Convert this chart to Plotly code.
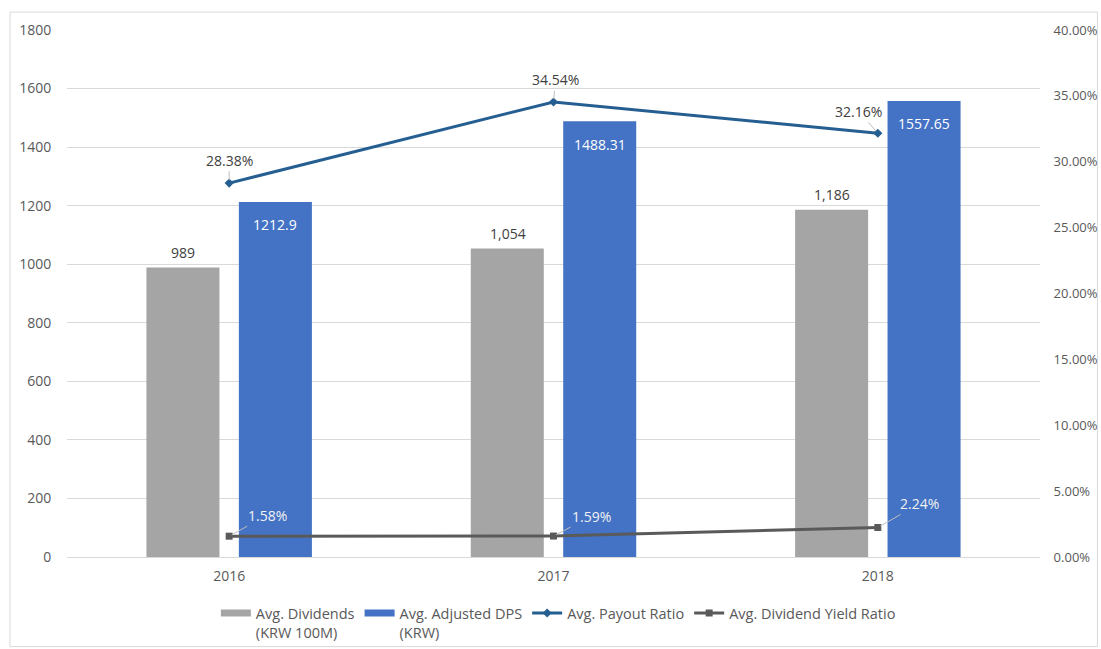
import plotly.graph_objects as go

# Chart data
years = ["2016", "2017", "2018"]
avg_dividends = [989, 1054, 1186]            # KRW 100M
avg_adjusted_dps = [1212.9, 1488.31, 1557.65]  # KRW
payout_ratio = [0.2838, 0.3454, 0.3216]
dividend_yield = [0.0158, 0.0159, 0.0224]

GRAY_BAR = "#A5A5A5"
BLUE_BAR = "#4472C4"
PAYOUT_LINE = "#255E91"
YIELD_LINE = "#5A5A5A"
TEXT = "#595959"
GRID = "#D9D9D9"
FONT = "Open Sans"
LABEL_SIZE = 14

fig = go.Figure()

fig.add_trace(go.Bar(
    x=years, y=avg_dividends, name="Avg. Dividends<br>(KRW 100M)",
    marker=dict(color=GRAY_BAR, line=dict(width=0)), showlegend=False,
))
fig.add_trace(go.Bar(
    x=years, y=avg_adjusted_dps, name="Avg. Adjusted DPS<br>(KRW)",
    marker=dict(color=BLUE_BAR, line=dict(width=0)), showlegend=False,
))
# legend entries for the bars drawn as wide flat swatches
fig.add_trace(go.Scatter(
    x=[None], y=[None], mode="lines", name="Avg. Dividends<br>(KRW 100M)",
    line=dict(color=GRAY_BAR, width=7),
))
fig.add_trace(go.Scatter(
    x=[None], y=[None], mode="lines", name="Avg. Adjusted DPS<br>(KRW)",
    line=dict(color=BLUE_BAR, width=7),
))
fig.add_trace(go.Scatter(
    x=years, y=payout_ratio, name="Avg. Payout Ratio", yaxis="y2",
    mode="lines+markers",
    line=dict(color=PAYOUT_LINE, width=3),
    marker=dict(symbol="diamond", size=7, color=PAYOUT_LINE),
))
fig.add_trace(go.Scatter(
    x=years, y=dividend_yield, name="Avg. Dividend Yield Ratio", yaxis="y2",
    mode="lines+markers",
    line=dict(color=YIELD_LINE, width=3),
    marker=dict(symbol="square", size=7, color=YIELD_LINE),
))

annotations = []
# annotation positions on the category axis use the category index
# value labels on the grey bars (above the bar top)
for i, v in enumerate(avg_dividends):
    annotations.append(dict(
        x=i, y=v, xref="x", yref="y", text=f"{v:,}", showarrow=False,
        xshift=-46, yshift=15,
        font=dict(size=LABEL_SIZE, color="#404040", family=FONT),
    ))
# value labels inside the blue bars (near the top)
for i, v in enumerate(avg_adjusted_dps):
    annotations.append(dict(
        x=i, y=v, xref="x", yref="y", text=f"{v:g}", showarrow=False,
        xshift=46, yshift=-23,
        font=dict(size=LABEL_SIZE, color="white", family=FONT),
    ))
# payout ratio labels with short leader lines
payout_offsets = [(0, -23), (2, -22), (-19, -22)]
for i, (v, (ax, ay)) in enumerate(zip(payout_ratio, payout_offsets)):
    annotations.append(dict(
        x=i, y=v, xref="x", yref="y2", text=f"{v:.2%}",
        showarrow=True, arrowhead=0, arrowwidth=1, arrowcolor="#BFBFBF",
        ax=ax, ay=ay, standoff=3,
        font=dict(size=LABEL_SIZE, color="#404040", family=FONT),
    ))
# dividend yield labels with leader lines
yield_offsets = [(38, -21), (38, -20), (42, -24)]
for i, (v, (ax, ay)) in enumerate(zip(dividend_yield, yield_offsets)):
    annotations.append(dict(
        x=i, y=v, xref="x", yref="y2", text=f"{v:.2%}",
        showarrow=True, arrowhead=0, arrowwidth=1, arrowcolor="#BFBFBF",
        ax=ax, ay=ay, standoff=3,
        font=dict(size=LABEL_SIZE, color="#F2F2F2", family=FONT),
    ))

fig.update_layout(
    width=1101, height=649,
    margin=dict(l=67, r=61, t=30, b=92),
    paper_bgcolor="white", plot_bgcolor="white",
    font=dict(family=FONT, size=14, color=TEXT),
    barmode="group", bargap=0.43, bargroupgap=0.21,
    xaxis=dict(
        type="category", showline=True, linecolor=GRID, linewidth=1,
        showgrid=False, ticks="outside", ticklen=6, tickcolor="rgba(0,0,0,0)",
        tickfont=dict(size=14, color=TEXT), automargin=False,
    ),
    yaxis=dict(
        range=[0, 1800], dtick=200, showgrid=True, gridcolor=GRID, gridwidth=1,
        zeroline=False, showline=False, ticks="outside", ticklen=12,
        tickcolor="rgba(0,0,0,0)", tickfont=dict(size=14, color=TEXT),
        automargin=False,
    ),
    yaxis2=dict(
        overlaying="y", side="right", range=[0, 0.4], dtick=0.05,
        tickformat=".2%", showgrid=False, zeroline=False, showline=False,
        ticks="outside", ticklen=10, tickcolor="rgba(0,0,0,0)",
        tickfont=dict(size=13, color=TEXT), automargin=False,
    ),
    legend=dict(
        orientation="h", x=0.505, xanchor="center",
        yref="container", y=0.08, yanchor="top",
        font=dict(size=14.5, color=TEXT), valign="top",
        traceorder="normal", bgcolor="rgba(0,0,0,0)",
    ),
    annotations=annotations,
    shapes=[dict(
        type="rect", xref="paper", yref="paper",
        x0=-0.0586, x1=1.059, y0=-0.17, y1=1.034,
        line=dict(color="#D9D9D9", width=1), fillcolor="rgba(0,0,0,0)",
        layer="below",
    )],
    showlegend=True,
)

fig.write_html("out.html")
